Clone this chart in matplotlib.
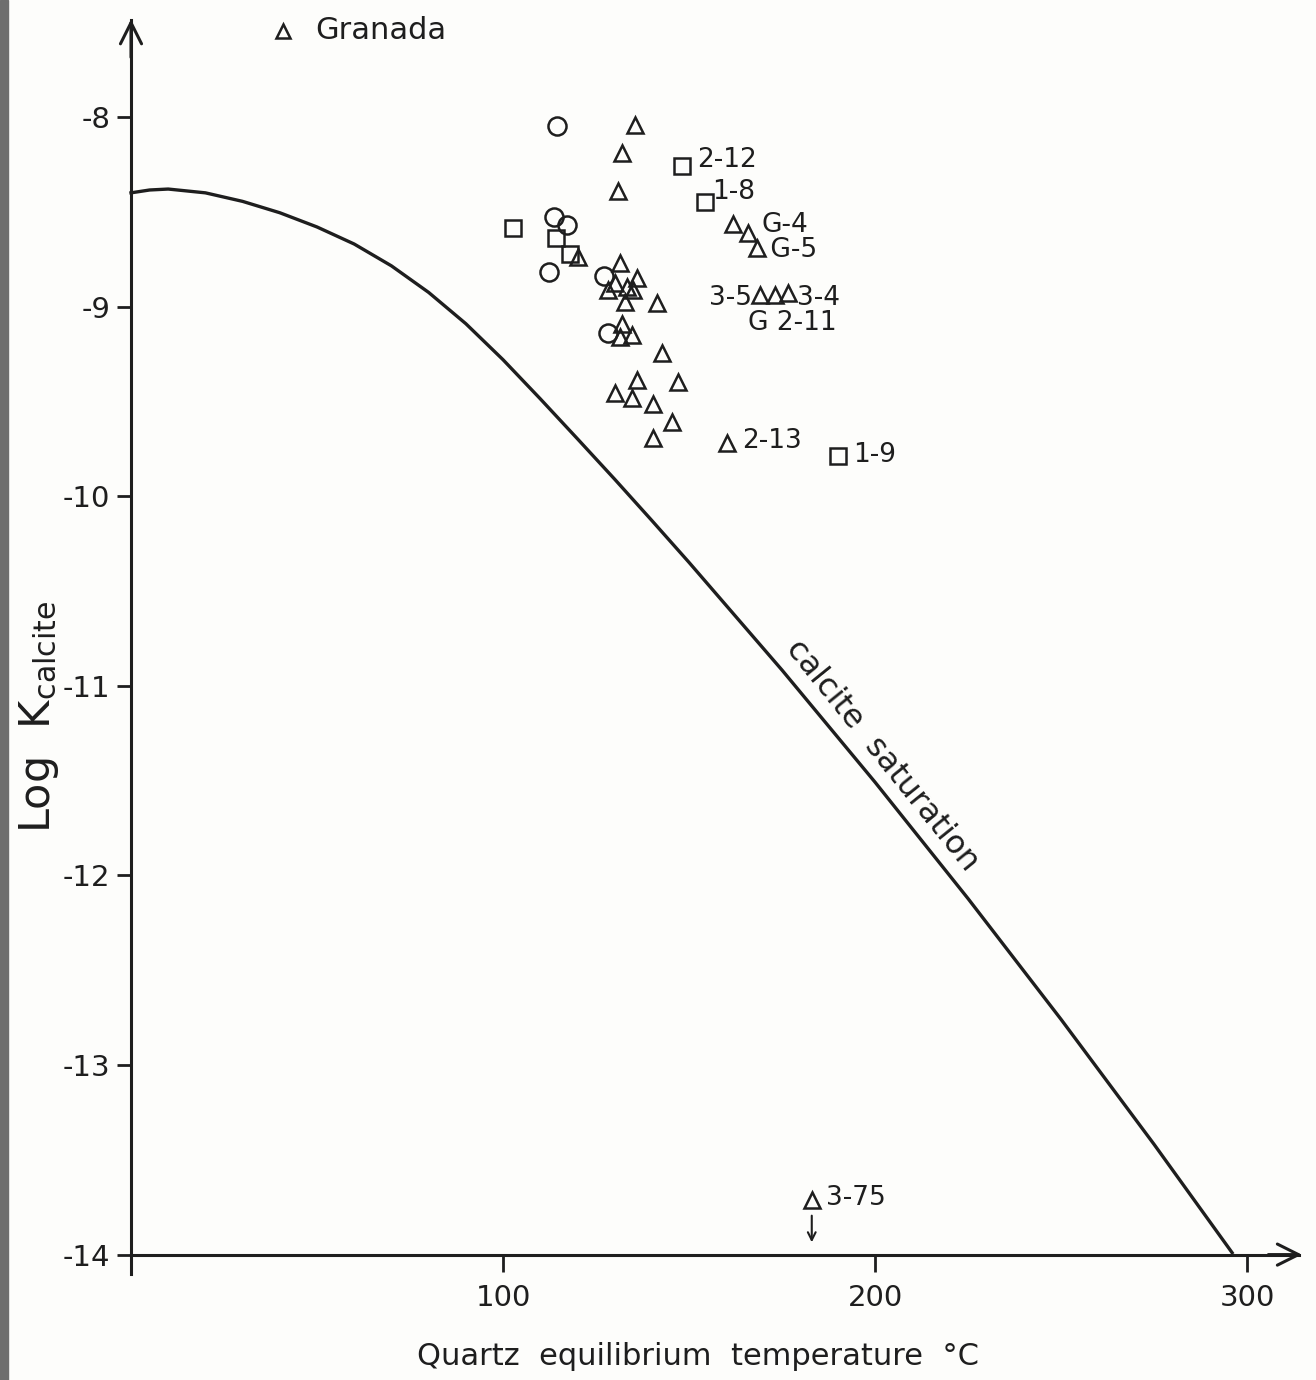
import numpy as np
import matplotlib.pyplot as plt
from matplotlib.patches import Rectangle

plt.rcParams['font.family'] = ['DejaVu Sans']
plt.rcParams['axes.unicode_minus'] = False
plt.rcParams['mathtext.fontset'] = 'dejavusans'

# calcite saturation curve
curve_t = [0, 5, 10, 20, 30, 40, 50, 60, 70, 80, 90, 100, 110, 120, 130, 140, 150,
           175, 200, 225, 250, 275, 296]
curve_k = [-8.40, -8.385, -8.38, -8.40, -8.445, -8.505, -8.58, -8.67, -8.785, -8.925, -9.09,
           -9.28, -9.486, -9.697, -9.91, -10.128, -10.349, -10.917, -11.508, -12.122, -12.759,
           -13.418, -13.99]

# samples
circ_t = [114.4, 113.7, 117.2, 112.4, 127.2, 128.2]
circ_k = [-8.05, -8.53, -8.57, -8.82, -8.84, -9.14]

sq_t = [102.7, 114.2, 118.0, 148.0, 154.3, 190.1]
sq_k = [-8.585, -8.64, -8.72, -8.26, -8.45, -9.79]

tri_t = [135.5, 131.9, 131.0, 120.2, 131.5, 130.1, 133.3, 135.9, 128.2, 134.9, 132.8, 141.3,
         131.9, 131.5, 134.6, 142.7, 135.9, 147.1, 130.1, 134.6, 140.4, 145.3, 140.4, 160.1,
         161.9, 165.9, 168.2, 169.1, 173.1, 176.7, 183.0]
tri_k = [-8.04, -8.19, -8.39, -8.74, -8.77, -8.875, -8.895, -8.85, -8.91, -8.91, -8.975, -8.98,
         -9.09, -9.16, -9.15, -9.245, -9.387, -9.396, -9.457, -9.484, -9.514, -9.61, -9.695, -9.72,
         -8.564, -8.614, -8.693, -8.939, -8.939, -8.93, -13.71]

# sample labels: text, x, y, alignment
lab_txt = ['2-12', '1-8', 'G-4\n G-5', '3-5', '3-4', 'G 2-11', '2-13', '1-9', '3-75']
lab_t = [152.2, 156.2, 169.6, 166.9, 179.0, 165.9, 164.2, 194.1, 186.8]
lab_k = [-8.227, -8.396, -8.636, -8.955, -8.955, -9.085, -9.71, -9.783, -13.70]
lab_ha = ['left', 'left', 'left', 'right', 'left', 'left', 'left', 'left', 'left']

ink = '#1e1e1e'

fig = plt.figure(figsize=(13.16, 13.8), dpi=100)
fig.patch.set_facecolor('#fdfdfb')
# scan edge on the left
fig.patches.append(Rectangle((0, 0), 8 / 1316, 1, transform=fig.transFigure,
                             color='#6e6e6e', zorder=0))

x0, x1 = -5, 318
y0, y1 = -14.4, -7.45
px_x, px_y = 3.72, 189.6
left = (131 + x0 * px_x) / 1316
width = (x1 - x0) * px_x / 1316
top_px = 117 - (y1 + 8) * px_y
height = (y1 - y0) * px_y / 1380
bottom = 1 - top_px / 1380 - height
ax = fig.add_axes([left, bottom, width, height])
ax.set_facecolor('none')
ax.set_xlim(x0, x1)
ax.set_ylim(y0, y1)

for s in ['top', 'right']:
    ax.spines[s].set_visible(False)
ax.spines['left'].set_position(('data', 0))
ax.spines['bottom'].set_position(('data', -14))
ax.spines['left'].set_bounds(-14.1, -7.49)
ax.spines['bottom'].set_bounds(0, 314)
for s in ['left', 'bottom']:
    ax.spines[s].set_linewidth(2.2)
    ax.spines[s].set_color(ink)

ax.annotate('', xy=(0, -7.47), xytext=(0, -7.7), annotation_clip=False,
            arrowprops=dict(arrowstyle='->', lw=2.2, color=ink, mutation_scale=38))
ax.annotate('', xy=(315.5, -14), xytext=(305, -14), annotation_clip=False,
            arrowprops=dict(arrowstyle='->', lw=2.2, color=ink, mutation_scale=38))

ax.set_xticks([100, 200, 300])
ax.set_yticks([-8, -9, -10, -11, -12, -13, -14])
ax.tick_params(axis='y', direction='out', length=10, width=2, color=ink, labelsize=21, pad=5,
               labelcolor=ink)
ax.tick_params(axis='x', direction='out', length=12, width=2, color=ink, labelsize=21, pad=9,
               labelcolor=ink)

ax.set_xlabel('Quartz  equilibrium  temperature  °C', fontsize=22, color=ink)
ax.xaxis.set_label_coords(0.487, -0.009)
ax.set_ylabel(r'Log  K$_{\mathrm{calcite}}$', fontsize=31, color=ink)
ax.yaxis.set_label_coords(-0.043, 0.466)

ax.plot(curve_t, curve_k, color=ink, lw=2.4, zorder=2)
ax.text(201.8, -11.37, 'calcite  saturation', rotation=-51, rotation_mode='anchor',
        ha='center', va='center', fontsize=23, color=ink)

mk = dict(linestyle='none', markerfacecolor='none', markeredgecolor=ink, markeredgewidth=1.8,
          zorder=3)
ax.plot(circ_t, circ_k, marker='o', markersize=13, **mk)
ax.plot(sq_t, sq_k, marker='s', markersize=12, **mk)
ax.plot(tri_t, tri_k, marker='^', markersize=12, **mk)

for txt, t, k, ha in zip(lab_txt, lab_t, lab_k, lab_ha):
    ax.text(t, k, txt, ha=ha, va='center', fontsize=19, color=ink, linespacing=0.95)

ax.annotate('', xy=(183.0, -13.95), xytext=(183.0, -13.78),
            arrowprops=dict(arrowstyle='->', lw=1.5, color=ink, mutation_scale=14))

# legend entry visible in the crop
ax.plot([40.9], [-7.545], marker='^', markersize=10, **mk)
ax.text(49.6, -7.545, 'Granada', ha='left', va='center', fontsize=22, color=ink)

fig.savefig('out.png', dpi=100, facecolor=fig.get_facecolor())
